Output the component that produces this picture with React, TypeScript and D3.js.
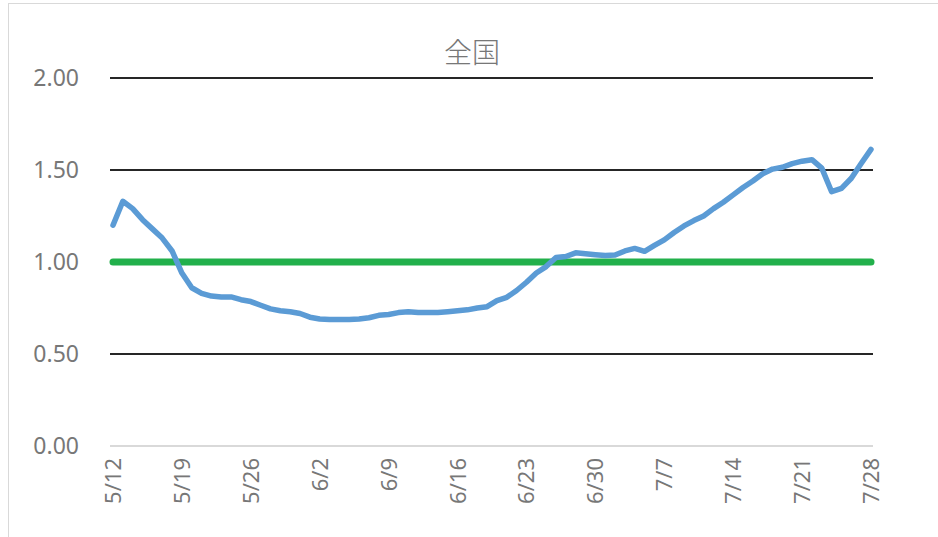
import { useRef, useEffect } from 'react'
import * as d3 from 'd3'

// daily values from 5/12 to 7/28
const startDate = new Date(2020, 4, 12)
const values = [
  1.20, 1.33, 1.29, 1.23, 1.18, 1.13, 1.06, 0.94, 0.86, 0.83,
  0.815, 0.81, 0.81, 0.795, 0.785, 0.765, 0.745, 0.735, 0.73, 0.72,
  0.70, 0.69, 0.687, 0.688, 0.687, 0.69, 0.697, 0.71, 0.715, 0.725,
  0.73, 0.725, 0.725, 0.726, 0.73, 0.735, 0.74, 0.75, 0.757, 0.79,
  0.808, 0.845, 0.89, 0.94, 0.975, 1.025, 1.03, 1.05, 1.045, 1.04,
  1.035, 1.038, 1.06, 1.074, 1.058, 1.09, 1.12, 1.16, 1.196, 1.225,
  1.25, 1.29, 1.325, 1.365, 1.405, 1.44, 1.48, 1.505, 1.515, 1.535,
  1.548, 1.556, 1.51, 1.382, 1.40, 1.455, 1.535, 1.612,
]
const threshold = 1.0
const yTicks = [0, 0.5, 1, 1.5, 2]
const title = '全国'

const W = 938
const H = 537

const App = () => {
  const svgRef = useRef<SVGSVGElement>(null)

  useEffect(() => {
    if (!svgRef.current) return
    const svg = d3.select(svgRef.current)
    svg.selectAll('*').remove()

    const font = "'Noto Sans', 'Open Sans', sans-serif"
    const textColor = '#777777'

    const data = values.map((v, i) => ({ date: d3.timeDay.offset(startDate, i), value: v }))

    const x = d3.scaleTime()
      .domain([data[0].date, data[data.length - 1].date])
      .range([113, 871])
    const y = d3.scaleLinear().domain([0, 2]).range([446, 78])

    // chart border
    svg.append('rect')
      .attr('x', 8.5).attr('y', 3.5)
      .attr('width', W).attr('height', H)
      .attr('fill', 'white')
      .attr('stroke', '#d9d9d9')

    svg.append('text')
      .attr('x', 472).attr('y', 63)
      .attr('text-anchor', 'middle')
      .attr('fill', textColor)
      .attr('font-family', "'Noto Sans CJK JP', sans-serif")
      .attr('font-weight', 300)
      .attr('font-size', 28)
      .text(title)

    // gridlines
    svg.append('g')
      .selectAll('line')
      .data(yTicks)
      .join('line')
      .attr('x1', 110).attr('x2', 873)
      .attr('y1', d => y(d)).attr('y2', d => y(d))
      .attr('stroke', d => (d === 0 ? '#d9d9d9' : '#262626'))
      .attr('stroke-width', 2)

    svg.append('g')
      .selectAll('text')
      .data(yTicks)
      .join('text')
      .attr('x', 79)
      .attr('y', d => y(d) + 8)
      .attr('text-anchor', 'end')
      .attr('fill', textColor)
      .attr('font-family', font)
      .attr('font-size', 23)
      .text(d => d3.format('.2f')(d))

    // weekly date labels
    const weekly = data.filter((_, i) => i % 7 === 0)
    svg.append('g')
      .selectAll('text')
      .data(weekly)
      .join('text')
      .attr('transform', d => `translate(${x(d.date) + 8},458) rotate(-90)`)
      .attr('text-anchor', 'end')
      .attr('fill', textColor)
      .attr('font-family', font)
      .attr('font-size', 22)
      .text(d => `${d.date.getMonth() + 1}/${d.date.getDate()}`)

    svg.append('line')
      .attr('x1', x(data[0].date)).attr('x2', x(data[data.length - 1].date))
      .attr('y1', y(threshold)).attr('y2', y(threshold))
      .attr('stroke', '#22b04b')
      .attr('stroke-width', 7)
      .attr('stroke-linecap', 'round')

    const line = d3.line<typeof data[0]>()
      .x(d => x(d.date))
      .y(d => y(d.value))

    svg.append('path')
      .datum(data)
      .attr('fill', 'none')
      .attr('stroke', '#5b9bd5')
      .attr('stroke-width', 5.5)
      .attr('stroke-linejoin', 'round')
      .attr('stroke-linecap', 'round')
      .attr('d', line)
  }, [])

  return (
    <svg ref={svgRef} width={W} height={H}
      style={{ position: 'absolute', left: 0, top: 0, display: 'block' }} />
  )
}

export default App
